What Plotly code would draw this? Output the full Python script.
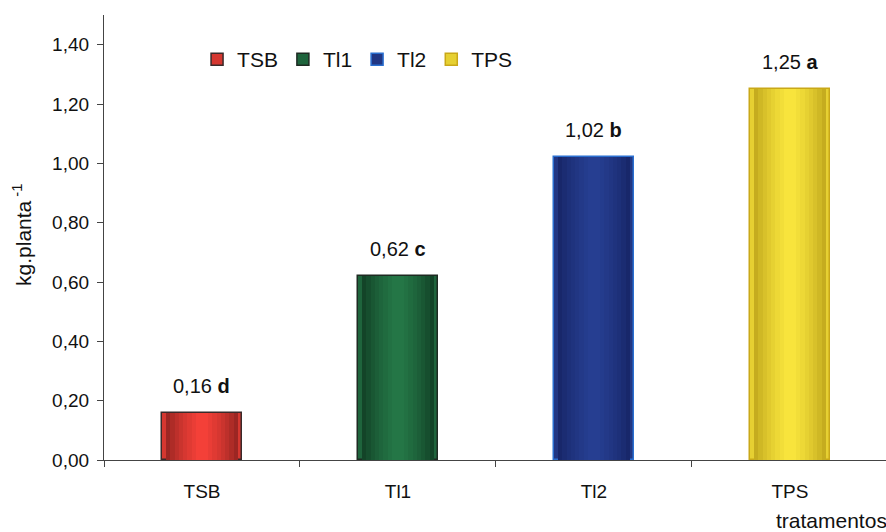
import plotly.graph_objects as go

categories = ["TSB", "TI1", "TI2", "TPS"]
tick_labels = ["TSB", "Tl1", "Tl2", "TPS"]
values = [0.16, 0.62, 1.02, 1.25]
letters = ["d", "c", "b", "a"]
y_ticks = [0.0, 0.2, 0.4, 0.6, 0.8, 1.0, 1.2, 1.4]

# style: gradient edge / centre colours and outlines
edge_color = {"TSB": (120, 28, 26), "TI1": (12, 48, 28), "TI2": (18, 30, 90), "TPS": (176, 150, 20)}
centre_color = {"TSB": (244, 64, 56), "TI1": (36, 118, 70), "TI2": (38, 62, 145), "TPS": (248, 228, 60)}
outline = {"TSB": "#3a2a2a", "TI1": "#1e2a22", "TI2": "#2a6fd0", "TPS": "#c9a818"}
bar_width = 0.41
n_layers = 9


def mix(a, b, t):
    return "rgb(%d,%d,%d)" % tuple(round(a[k] + (b[k] - a[k]) * t) for k in range(3))


fig = go.Figure()
for i, cat in enumerate(categories):
    for j in range(n_layers):
        t = j / (n_layers - 1)
        w = bar_width * (1 - 0.85 * t)
        col = mix(edge_color[cat], centre_color[cat], t ** 0.6)
        first = j == 0
        fig.add_trace(go.Bar(
            x=[tick_labels[i]], y=[values[i]], width=w,
            name=tick_labels[i], legendgroup=cat,
            showlegend=first,
            marker=dict(color=mix(edge_color[cat], centre_color[cat], 0.75) if first else col,
                        line=dict(color=outline[cat], width=1.5) if first else dict(width=0)),
            hoverinfo="skip",
        ))
    fig.add_annotation(
        x=tick_labels[i], y=values[i],
        text=f"{values[i]:.2f}".replace(".", ",") + f" <b>{letters[i]}</b>",
        showarrow=False, yshift=27, yanchor="middle",
        font=dict(size=20, color="#111111", family="Liberation Sans"),
    )

fig.add_annotation(
    xref="paper", yref="paper", x=0.93, y=-0.136, xanchor="center", yanchor="middle",
    text="tratamentos", showarrow=False,
    font=dict(size=21, color="#111111", family="Liberation Sans"),
)
fig.add_annotation(
    xref="paper", yref="paper", x=-0.104, y=0.505, xanchor="center", yanchor="middle",
    text="kg.planta<sup> -1</sup>", showarrow=False, textangle=-90,
    font=dict(size=21, color="#111111", family="Liberation Sans"),
)

fig.update_layout(
    width=886, height=532,
    margin=dict(l=104, r=0, t=15, b=72, autoexpand=False),
    paper_bgcolor="white", plot_bgcolor="white",
    barmode="overlay", bargap=0,
    font=dict(family="Liberation Sans", color="#111111"),
    legend=dict(orientation="h", x=0.119, y=0.9, xanchor="left", yanchor="middle",
                font=dict(size=21, color="#111111"), bgcolor="rgba(0,0,0,0)",
                itemwidth=30, tracegroupgap=0),
    showlegend=True,
)
fig.update_xaxes(
    type="category", categoryorder="array", categoryarray=tick_labels,
    range=[-0.5, 3.49], showline=True, linecolor="#444444", linewidth=1.2,
    ticks="outside", tickson="boundaries", ticklen=6, tickcolor="#444444",
    tickfont=dict(size=19, color="#111111"), ticklabelstandoff=14,
    showgrid=False, zeroline=False, fixedrange=True, automargin=False,
)
fig.update_yaxes(
    range=[0, 1.5], tickvals=y_ticks,
    ticktext=[f"{v:.2f}".replace(".", ",") for v in y_ticks],
    showline=True, linecolor="#444444", linewidth=1.2,
    ticks="outside", ticklen=6, tickcolor="#444444",
    tickfont=dict(size=19, color="#111111"), ticklabelstandoff=4,
    showgrid=False, zeroline=False, automargin=False,
)

fig.write_html("out.html", config={"displayModeBar": False},
               post_script="document.body.style.margin='0';document.body.style.overflow='hidden';")
